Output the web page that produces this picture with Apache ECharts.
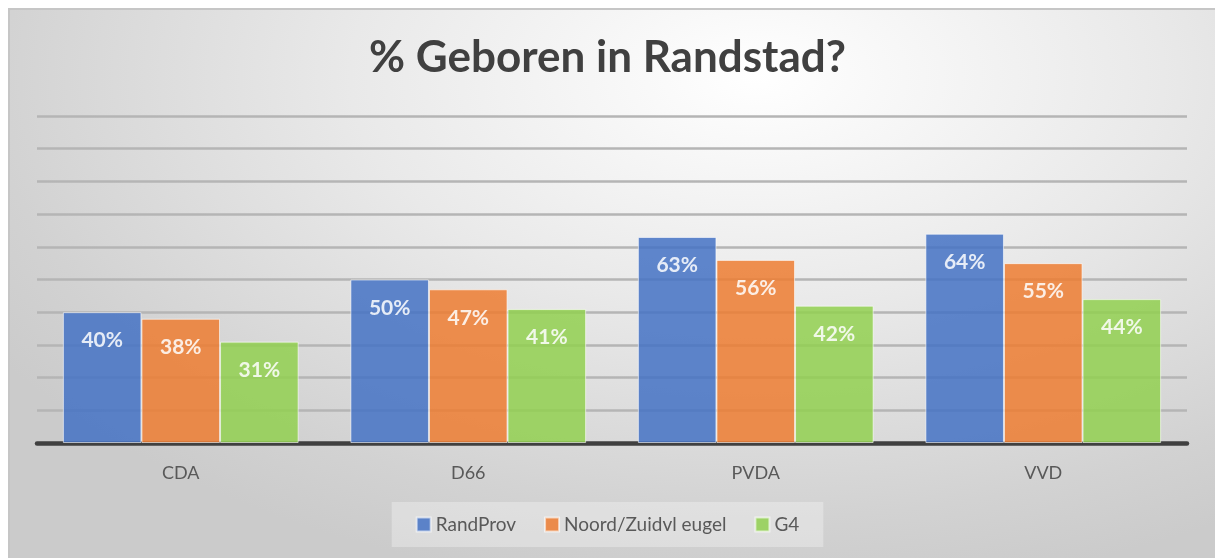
<!DOCTYPE html>
<html lang="nl">
<head>
    <meta charset="UTF-8" />
    <title>% Geboren in Randstad?</title>
    <script src="https://cdn.jsdelivr.net/npm/echarts@6/dist/echarts.min.js"></script>
    <style>
        body { margin: 0; background: #fff; }
        #frame {
            position: absolute; left: 8px; top: 8px; width: 1207px; height: 550px;
            border-left: 2px solid #c6c6c6; border-top: 2px solid #c6c6c6;
            box-sizing: border-box;
            background: radial-gradient(ellipse 75% 95% at 62% 12%, #ffffff 0%, #e9e9e9 45%, #d2d2d2 85%, #cbcbcb 100%);
        }
        #chart { position: absolute; left: 0; top: 0; width: 1215px; height: 558px; }
    </style>
</head>
<body>
    <div id="frame"></div>
    <div id="chart"></div>
    <script>
        var categories = ["CDA", "D66", "PVDA", "VVD"];
        var seriesNames = ["RandProv", "Noord/Zuidvl eugel", "G4"];
        var randProv = [40, 50, 63, 64];
        var noordZuid = [38, 47, 56, 55];
        var g4 = [31, 41, 42, 44];
        var colors = ["#4472C4", "#ED7D31", "#92D050"];

        var font = "Lato, 'Noto Sans', sans-serif";

        function makeBar(name, data) {
            return {
                name: name,
                type: "bar",
                data: data,
                barGap: "0%",
                barCategoryGap: "18%",
                itemStyle: {
                    opacity: 0.85,
                    borderColor: "rgba(255,255,255,0.7)",
                    borderWidth: 1
                },
                label: {
                    show: true,
                    position: "insideTop",
                    distance: 18,
                    formatter: "{c}%",
                    color: "#fff",
                    fontSize: 21,
                    fontWeight: "bold",
                    fontFamily: font
                }
            };
        }

        var myChart = echarts.init(document.getElementById("chart"));
        var option = {
            backgroundColor: "transparent",
            color: colors,
            animation: false,
            title: {
                text: "% Geboren in Randstad?",
                left: "center",
                top: 31,
                textStyle: {
                    fontFamily: font,
                    fontSize: 44,
                    fontWeight: "bold",
                    color: "#404040"
                }
            },
            legend: {
                bottom: 11,
                left: "center",
                icon: "rect",
                itemWidth: 14,
                itemHeight: 14,
                itemGap: 28,
                padding: [13, 24],
                backgroundColor: "rgba(255,255,255,0.3)",
                textStyle: { fontFamily: font, fontSize: 19, color: "#595959" },
                data: seriesNames
            },
            grid: { left: 37, right: 28, top: 116, bottom: 115 },
            xAxis: {
                type: "category",
                data: categories,
                axisLine: { lineStyle: { color: "#404040", width: 4.5 } },
                axisTick: { show: false },
                axisLabel: { fontFamily: font, fontSize: 18, color: "#595959", margin: 21 }
            },
            yAxis: {
                type: "value",
                min: 0,
                max: 100,
                interval: 10,
                axisLabel: { show: false },
                axisLine: { show: false },
                axisTick: { show: false },
                splitLine: { lineStyle: { color: "#b5b5b5", width: 2.5 } }
            },
            series: [
                makeBar(seriesNames[0], randProv),
                makeBar(seriesNames[1], noordZuid),
                makeBar(seriesNames[2], g4)
            ]
        };
        myChart.setOption(option);
    </script>
</body>
</html>
